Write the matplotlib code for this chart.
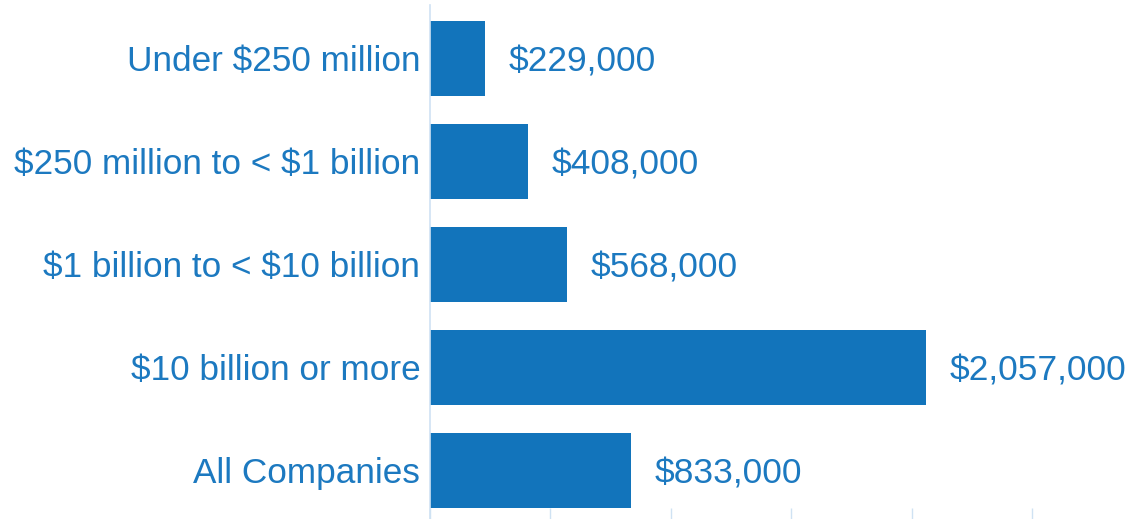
import matplotlib
matplotlib.use("Agg")
import matplotlib.pyplot as plt
from matplotlib.ticker import MultipleLocator

# revenue bands and average pay
bands = [
    "Under $250 million",
    "$250 million to < $1 billion",
    "$1 billion to < $10 billion",
    "$10 billion or more",
    "All Companies",
]
values = [229000, 408000, 568000, 2057000, 833000]
value_labels = ["$229,000", "$408,000", "$568,000", "$2,057,000", "$833,000"]

bar_color = "#1274bb"
text_color = "#1c79c0"
axis_color = "#cfe2f3"

plt.rcParams["font.family"] = ["Liberation Sans", "DejaVu Sans"]
plt.rcParams["text.parse_math"] = False

fig = plt.figure(figsize=(11.32, 5.19), dpi=100)
ax = fig.add_axes([430 / 1132, 0, 702 / 1132, 514 / 519])

ypos = list(range(len(bands)))
ax.barh(ypos, values, height=0.73, color=bar_color)

for y, v, lab in zip(ypos, values, value_labels):
    ax.annotate(lab, (v, y), xytext=(17, 0), textcoords="offset points",
                ha="left", va="center_baseline", fontsize=25.5, color=text_color)

ax.set_xlim(0, 2.913e6)
ax.set_ylim(4.471, -0.519)
ax.set_yticks(ypos)
ax.set_yticklabels(bands, fontsize=25.3, color=text_color)
ax.tick_params(axis="y", length=0, pad=7)

ax.xaxis.set_major_locator(MultipleLocator(500000))
ax.tick_params(axis="x", direction="in", length=8, width=1, color=axis_color,
               labelbottom=False)

for side in ["top", "right", "bottom"]:
    ax.spines[side].set_visible(False)
ax.spines["left"].set_color(axis_color)
ax.spines["left"].set_linewidth(1.2)

fig.savefig("out.png", dpi=100)
